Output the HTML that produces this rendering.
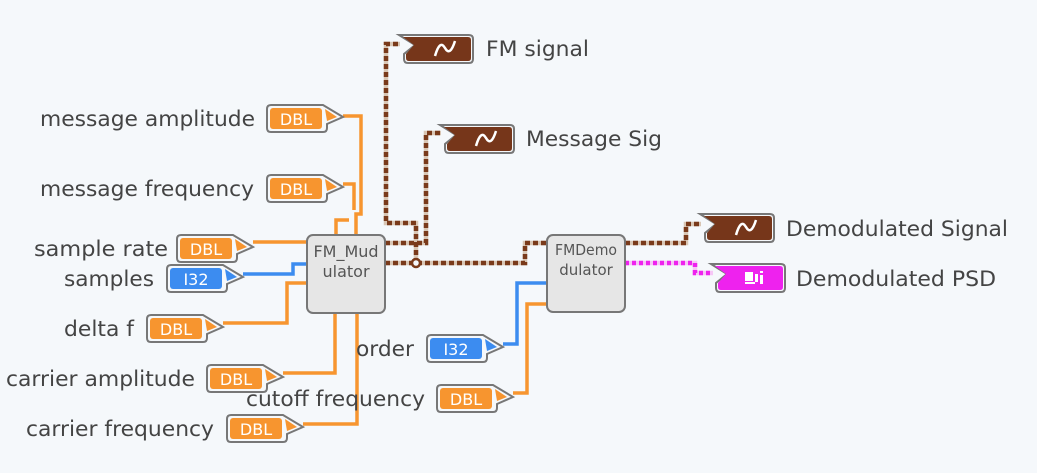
<!DOCTYPE html>
<html><head><meta charset="utf-8"><style>
html,body{margin:0;padding:0;background:#f5f8fb;}
svg{display:block;}
text{font-family:"DejaVu Sans","Liberation Sans",sans-serif;}
</style></head><body>
<svg width="1037" height="473" viewBox="0 0 1037 473" xmlns="http://www.w3.org/2000/svg">
<defs>
<g id="ctl">
  <path d="M4,0 H56 L76,12 L60,19 V23 Q60,27 56,27 H4 Q0,27 0,23 V4 Q0,0 4,0 Z" fill="#f5f8fb" stroke="#777" stroke-width="2"/>
</g>
<g id="ind">
  <path d="M0,0 H70 Q74,0 74,4 V24 Q74,28 70,28 H9 Q5,28 5,24 V19 L16,10 Z" fill="#f5f8fb" stroke="#777" stroke-width="2"/>
</g>
</defs>

<g fill="none" stroke="#f7952f" stroke-width="3.5">
<polyline points="343,116 361,116 361,214 356,214 356,235"/>
<polyline points="343,184 354,184 354,210"/>
<polyline points="349,220 336,220 336,235"/>
<polyline points="253,242 307,242"/>
<polyline points="223,323 287,323 287,283 307,283"/>
<polyline points="283,373 335,373 335,313"/>
<polyline points="303,424 357,424 357,313"/>
<polyline points="513,393 527,393 527,304 547,304"/>
</g>
<g fill="none" stroke="#3c8cf0" stroke-width="3.5">
<polyline points="243,274 293,274 293,264 307,264"/>
<polyline points="503,344 517,344 517,283 547,283"/>
</g>
<g fill="none" stroke-width="4.5">
<g stroke="#d9c6b4">
<polyline points="385,263 525,263 525,243 547,243"/>
<polyline points="416,263 416,223 386,223 386,44 400,44"/>
<polyline points="385,243 426,243 426,133 441,133"/>
<polyline points="625,243 686,243 686,224 701,224"/>
</g>
<g stroke="#7a3a1a" stroke-dasharray="5 3">
<polyline points="385,263 525,263 525,243 547,243"/>
<polyline points="416,263 416,223 386,223 386,44 400,44"/>
<polyline points="385,243 426,243 426,133 441,133"/>
<polyline points="625,243 686,243 686,224 701,224"/>
</g>
<g stroke="#f6c6f6"><polyline points="625,263 695,263 695,273 713,273"/></g>
<g stroke="#ee22ee" stroke-dasharray="4 3"><polyline points="625,263 695,263 695,273 713,273"/></g>
</g>
<circle cx="416" cy="263" r="4" fill="#f5f8fb" stroke="#7a3a1a" stroke-width="2.5"/>

<rect x="307" y="235" width="78" height="78" rx="6" fill="#e6e6e6" stroke="#777" stroke-width="2"/>
<text x="346" y="257" font-size="16" fill="#555" text-anchor="middle">FM_Mud</text>
<text x="346" y="277" font-size="16" fill="#555" text-anchor="middle">ulator</text>
<rect x="547" y="235" width="78" height="77" rx="6" fill="#e6e6e6" stroke="#777" stroke-width="2"/>
<text x="586" y="255" font-size="15" fill="#555" text-anchor="middle" textLength="62" lengthAdjust="spacingAndGlyphs">FMDemo</text>
<text x="586" y="275" font-size="15" fill="#555" text-anchor="middle">dulator</text>

<g font-size="16" fill="#fff" text-anchor="middle">
<g transform="translate(267,105)"><use href="#ctl"/><rect x="3" y="3" width="52" height="21" rx="3" fill="#f7952f"/><polygon points="58,4 70,12 60,16" fill="#f7952f"/><text x="29" y="20">DBL</text></g>
<g transform="translate(267,175)"><use href="#ctl"/><rect x="3" y="3" width="52" height="21" rx="3" fill="#f7952f"/><polygon points="58,4 70,12 60,16" fill="#f7952f"/><text x="29" y="20">DBL</text></g>
<g transform="translate(177,235)"><use href="#ctl"/><rect x="3" y="3" width="52" height="21" rx="3" fill="#f7952f"/><polygon points="58,4 70,12 60,16" fill="#f7952f"/><text x="29" y="20">DBL</text></g>
<g transform="translate(167,265)"><use href="#ctl"/><rect x="3" y="3" width="52" height="21" rx="3" fill="#3c8cf0"/><polygon points="58,4 70,12 60,16" fill="#3c8cf0"/><text x="29" y="20">I32</text></g>
<g transform="translate(147,315)"><use href="#ctl"/><rect x="3" y="3" width="52" height="21" rx="3" fill="#f7952f"/><polygon points="58,4 70,12 60,16" fill="#f7952f"/><text x="29" y="20">DBL</text></g>
<g transform="translate(207,365)"><use href="#ctl"/><rect x="3" y="3" width="52" height="21" rx="3" fill="#f7952f"/><polygon points="58,4 70,12 60,16" fill="#f7952f"/><text x="29" y="20">DBL</text></g>
<g transform="translate(227,415)"><use href="#ctl"/><rect x="3" y="3" width="52" height="21" rx="3" fill="#f7952f"/><polygon points="58,4 70,12 60,16" fill="#f7952f"/><text x="29" y="20">DBL</text></g>
<g transform="translate(427,335)"><use href="#ctl"/><rect x="3" y="3" width="52" height="21" rx="3" fill="#3c8cf0"/><polygon points="58,4 70,12 60,16" fill="#3c8cf0"/><text x="29" y="20">I32</text></g>
<g transform="translate(437,385)"><use href="#ctl"/><rect x="3" y="3" width="52" height="21" rx="3" fill="#f7952f"/><polygon points="58,4 70,12 60,16" fill="#f7952f"/><text x="29" y="20">DBL</text></g>
</g>

<g>
<g transform="translate(399,35)"><use href="#ind"/><path d="M4,2 H69 Q72,2 72,5 V23 Q72,26 69,26 H10 Q7,26 7,23 V19 L15,10 Z" fill="#76361a"/><path d="M36,21 Q41,4 46,13 Q51,22 56,6" fill="none" stroke="#fff" stroke-width="2.5"/></g>
<g transform="translate(440,125)"><use href="#ind"/><path d="M4,2 H69 Q72,2 72,5 V23 Q72,26 69,26 H10 Q7,26 7,23 V19 L15,10 Z" fill="#76361a"/><path d="M36,21 Q41,4 46,13 Q51,22 56,6" fill="none" stroke="#fff" stroke-width="2.5"/></g>
<g transform="translate(700,214)"><use href="#ind"/><path d="M4,2 H69 Q72,2 72,5 V23 Q72,26 69,26 H10 Q7,26 7,23 V19 L15,10 Z" fill="#76361a"/><path d="M36,21 Q41,4 46,13 Q51,22 56,6" fill="none" stroke="#fff" stroke-width="2.5"/></g>
<g transform="translate(711,264)"><use href="#ind"/><path d="M4,2 H69 Q72,2 72,5 V23 Q72,26 69,26 H10 Q7,26 7,23 V19 L15,10 Z" fill="#ee22ee"/><rect x="34" y="8" width="8" height="9" fill="#fff"/><rect x="34" y="18" width="10" height="2" fill="#fff"/><rect x="44" y="10" width="3" height="8" fill="#fff"/><rect x="49" y="7" width="3" height="2" fill="#fff"/><rect x="49" y="11" width="3" height="9" fill="#fff"/></g>
</g>

<g font-size="21" fill="#444">
<text x="40" y="126" textLength="215" lengthAdjust="spacingAndGlyphs">message amplitude</text>
<text x="40" y="196" textLength="214" lengthAdjust="spacingAndGlyphs">message frequency</text>
<text x="34" y="256" textLength="134" lengthAdjust="spacingAndGlyphs">sample rate</text>
<text x="64" y="286" textLength="90" lengthAdjust="spacingAndGlyphs">samples</text>
<text x="64" y="336" textLength="70" lengthAdjust="spacingAndGlyphs">delta f</text>
<text x="6" y="386" textLength="189" lengthAdjust="spacingAndGlyphs">carrier amplitude</text>
<text x="26" y="436" textLength="188" lengthAdjust="spacingAndGlyphs">carrier frequency</text>
<text x="356" y="356" textLength="58" lengthAdjust="spacingAndGlyphs">order</text>
<text x="246" y="406" textLength="179" lengthAdjust="spacingAndGlyphs">cutoff frequency</text>
<text x="486" y="56" textLength="103" lengthAdjust="spacingAndGlyphs">FM signal</text>
<text x="526" y="146" textLength="136" lengthAdjust="spacingAndGlyphs">Message Sig</text>
<text x="786" y="236" textLength="222" lengthAdjust="spacingAndGlyphs">Demodulated Signal</text>
<text x="796" y="286" textLength="200" lengthAdjust="spacingAndGlyphs">Demodulated PSD</text>
</g>
</svg>
</body></html>
